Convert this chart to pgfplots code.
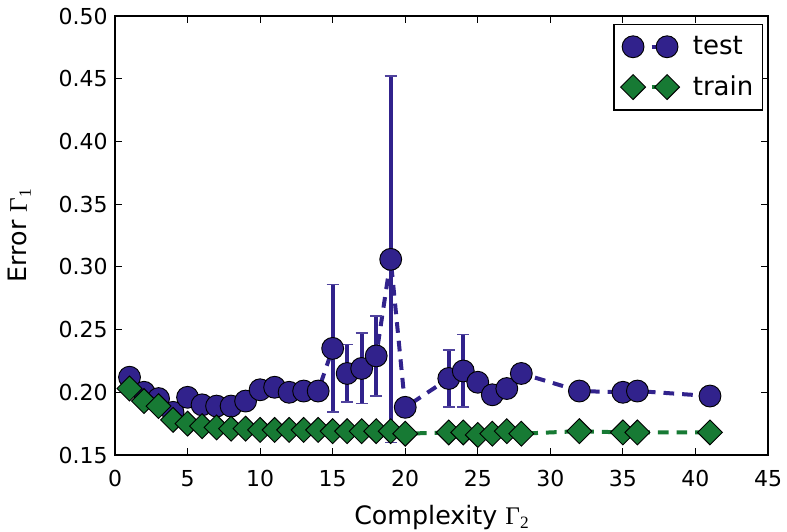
\documentclass[border=0pt]{standalone}
\usepackage{pgfplots}
\pgfplotsset{compat=1.18}
\usepackage{fontspec}
\setmainfont{DejaVu Sans}
\newfontfamily\gfont{Liberation Serif}
\definecolor{testc}{RGB}{49,34,140}
\definecolor{trainc}{RGB}{23,122,52}

\pgfplotstableread{
x y e
1 0.212 0.001
2 0.200 0.001
3 0.195 0.001
4 0.184 0.001
5 0.196 0.001
6 0.190 0.001
7 0.189 0.001
8 0.189 0.001
9 0.193 0.001
10 0.202 0.003
11 0.204 0.001
12 0.200 0.001
13 0.201 0.001
14 0.201 0.002
15 0.235 0.051
16 0.215 0.023
17 0.219 0.028
18 0.229 0.032
19 0.306 0.146
20 0.188 0.001
23 0.211 0.023
24 0.217 0.029
25 0.208 0.001
26 0.198 0.001
27 0.203 0.001
28 0.215 0.001
32 0.201 0.001
35 0.200 0.001
36 0.201 0.001
41 0.197 0.001
}\testdata

\pgfplotstableread{
x y
1 0.203
2 0.193
3 0.189
4 0.178
5 0.175
6 0.173
7 0.172
8 0.171
9 0.171
10 0.170
11 0.170
12 0.170
13 0.170
14 0.170
15 0.169
16 0.169
17 0.169
18 0.169
19 0.169
20 0.167
23 0.168
24 0.168
25 0.166
26 0.167
27 0.169
28 0.167
32 0.169
35 0.168
36 0.168
41 0.168
}\traindata

\begin{document}
\begin{tikzpicture}[x=1pt,y=1pt]
\path[use as bounding box] (-86.25,-57) rectangle (504,341.25);
\begin{axis}[
  at={(0,0)}, anchor=south west,
  scale only axis, width=489.75pt, height=329.25pt,
  xmin=0, xmax=45, ymin=0.15, ymax=0.50,
  xtick={0,5,...,45},
  ytick={0.15,0.20,0.25,0.30,0.35,0.40,0.45,0.50},
  /pgf/number format/assume math mode=true,
  tick label style={font=\fontsize{16.5}{19}\selectfont, black},
  xticklabel style={yshift=-8pt},
  yticklabel style={xshift=-2pt, /pgf/number format/.cd, fixed, fixed zerofill, precision=2},
  label style={font=\fontsize{19}{22}\selectfont},
  xlabel={Complexity {\gfont Γ\raisebox{-3pt}{\fontsize{13}{15}\selectfont 2}}},
  ylabel={Error {\gfont Γ\raisebox{-3pt}{\fontsize{13}{15}\selectfont 1}}},
  xlabel style={yshift=-7pt},
  ylabel style={yshift=14pt},
  axis line style={line width=1.1pt},
  major tick length=5pt,
  tick style={line width=0.8pt, black},
  tick align=inside,
  legend style={at={(0.993,0.982)}, anchor=north east, draw=black, line width=1.1pt,
    font=\fontsize{19.5}{22}\selectfont, row sep=10.5pt, inner xsep=5pt, inner ysep=7pt,
    cells={anchor=west}},
  legend cell align=left,
  legend image code/.code={
    \draw[mark repeat=2,mark phase=1,#1] plot coordinates {(0pt,0pt)(12.75pt,0pt)(25.5pt,0pt)};},
]
\addplot[testc, line width=3pt, dash pattern=on 8pt off 6pt,
  mark=*, mark size=8.2pt, mark options={solid, fill=testc, draw=black, line width=0.7pt},
  error bars/.cd, y dir=both, y explicit,
  error bar style={testc, line width=3pt, solid},
  error mark options={rotate=90, mark size=4.5pt, line width=1.3pt, testc!85}]
  table[x=x, y=y, y error=e] {\testdata};
\addlegendentry{\hspace{8pt}test}
\addplot[trainc, line width=3pt, dash pattern=on 8pt off 6pt,
  mark=square*, mark size=6.6pt, mark options={solid, rotate=45, fill=trainc, draw=black, line width=0.7pt}]
  table[x=x, y=y] {\traindata};
\addlegendentry{\hspace{8pt}train}
\end{axis}
\end{tikzpicture}
\end{document}
